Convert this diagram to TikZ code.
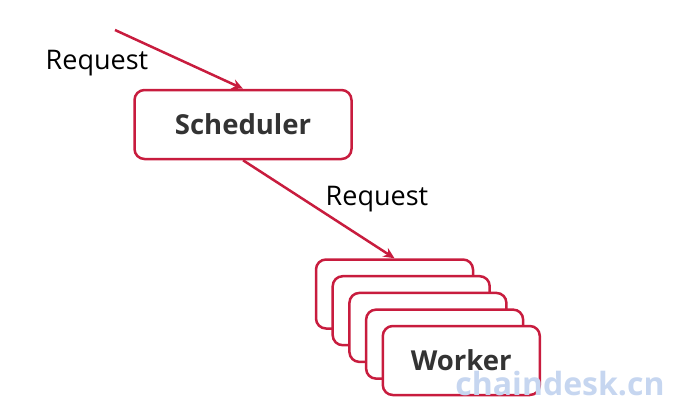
\documentclass[tikz,border=0pt]{standalone}
\usepackage{fontspec}
\setmainfont{Open Sans}
\usetikzlibrary{arrows.meta}
\definecolor{redline}{RGB}{200,28,62}
\definecolor{txt}{RGB}{51,51,51}
\definecolor{wm}{RGB}{198,214,240}
\tikzset{
  box/.style={draw=redline, line width=2.5pt, rounded corners=10pt, fill=white, minimum width=#1, minimum height=69pt, inner sep=0pt},
  boxlabel/.style={font=\fontsize{27.5}{30}\selectfont\bfseries, text=txt},
  lbl/.style={font=\fontsize{27}{30}\selectfont, text=black},
  conn/.style={draw=redline, line width=2.5pt, -{Stealth[length=11pt,width=10pt]}}
}
\begin{document}
\begin{tikzpicture}[x=1pt,y=-1pt]
\useasboundingbox (0,0) rectangle (690,413);
\node[box=217pt, minimum height=69pt, boxlabel] (sched) at (243,124.5) {Scheduler};
\node[box=157pt] (w1) at (394.5,294) {};
\node[box=157pt] (w2) at (411.2,310.7) {};
\node[box=157pt] (w3) at (427.9,327.4) {};
\node[box=157pt] (w4) at (444.6,344.1) {};
\node[box=157pt, boxlabel] (w5) at (461.3,360.5) {Worker};
\coordinate (src) at (115,30);
\draw[conn] (src) -- (sched.north);
\draw[conn] (sched.south) -- (w1.north);
\node[lbl] (l1) at (97,63) {Request};
\node[lbl] (l2) at (377,199) {Request};
\node[font=\fontsize{32}{36}\selectfont\bfseries, text=wm] (wmark) at (560,384) {chaindesk.cn};
\end{tikzpicture}
\end{document}
